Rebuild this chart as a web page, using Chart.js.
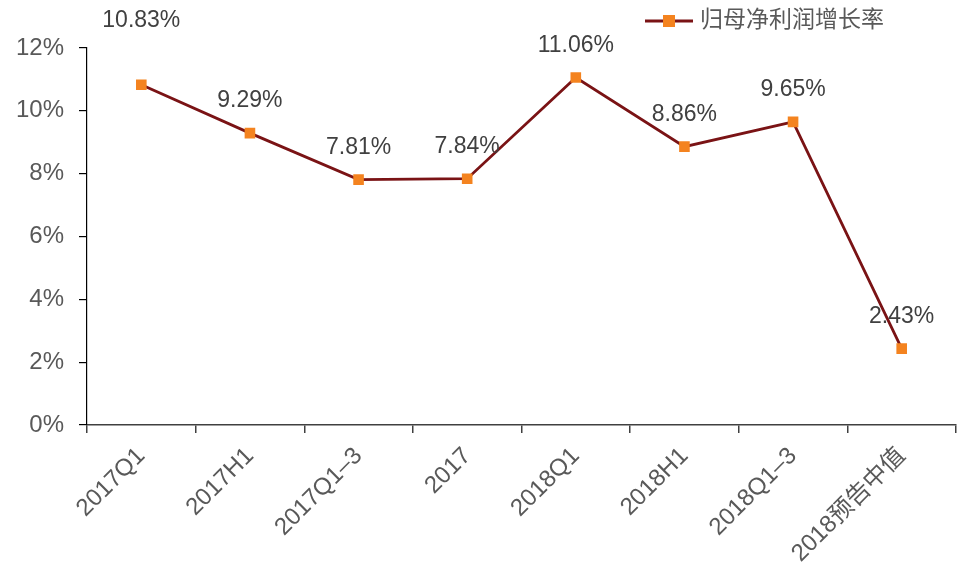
<!DOCTYPE html>
<html>
<head>
<meta charset="utf-8">
<script src="https://cdn.jsdelivr.net/npm/chart.js@4"></script>
<style>
html,body{margin:0;padding:0;background:#fff;}
#wrap{width:958px;height:569px;position:relative;}
</style>
</head>
<body>
<div id="wrap"><canvas id="c"></canvas></div>
<script>
const categories = ['2017Q1','2017H1','2017Q1–3','2017','2018Q1','2018H1','2018Q1–3','2018预告中值'];
const growthRate = [10.83, 9.29, 7.81, 7.84, 11.06, 8.86, 9.65, 2.43];
const yTicks = [0, 2, 4, 6, 8, 10, 12];
const seriesName = '归母净利润增长率';

const FONT = '"Liberation Sans", Arial, "Noto Sans CJK SC", sans-serif';
const LINE = '#7A1315';
const MARK = '#F4831F';

const dataLabels = {
  id: 'dataLabels',
  afterDatasetsDraw(chart, args, opts) {
    const ctx = chart.ctx;
    const meta = chart.getDatasetMeta(0);
    const ds = chart.data.datasets[0];
    ctx.save();
    ctx.font = '23px ' + FONT;
    ctx.fillStyle = '#404040';
    ctx.textAlign = 'center';
    ctx.textBaseline = 'middle';
    meta.data.forEach((el, i) => {
      const off = (opts.offsets && opts.offsets[i] != null) ? opts.offsets[i] : 32;
      ctx.fillText(ds.data[i].toFixed(2) + '%', el.x, el.y - off);
    });
    ctx.restore();
  }
};

const customLegend = {
  id: 'customLegend',
  afterDraw(chart) {
    const ctx = chart.ctx;
    const x0 = 645, y0 = 21;
    ctx.save();
    ctx.strokeStyle = LINE;
    ctx.lineWidth = 3;
    ctx.beginPath();
    ctx.moveTo(x0, y0);
    ctx.lineTo(x0 + 48, y0);
    ctx.stroke();
    ctx.fillStyle = MARK;
    ctx.fillRect(x0 + 24 - 6, y0 - 6, 12, 12);
    ctx.font = '23px ' + FONT;
    ctx.fillStyle = '#595959';
    ctx.textAlign = 'left';
    ctx.textBaseline = 'middle';
    ctx.fillText(seriesName, x0 + 55, y0);
    ctx.restore();
  }
};

new Chart(document.getElementById('c'), {
  type: 'line',
  data: {
    labels: categories,
    datasets: [{
      label: seriesName,
      data: growthRate,
      borderColor: LINE,
      borderWidth: 2.8,
      backgroundColor: MARK,
      pointStyle: 'rect',
      pointRadius: 7.5,
      pointHoverRadius: 7.5,
      pointBackgroundColor: MARK,
      pointBorderColor: MARK,
      pointBorderWidth: 0,
      tension: 0,
      fill: false
    }]
  },
  options: {
    responsive: true,
    maintainAspectRatio: false,
    animation: false,
    layout: { autoPadding: false, padding: { top: 48, right: 2, left: 0, bottom: 0 } },
    plugins: {
      legend: { display: false },
      tooltip: { enabled: false },
      dataLabels: { offsets: [64] }
    },
    scales: {
      x: {
        type: 'category',
        offset: true,
        grid: { display: true, drawOnChartArea: false, drawTicks: true, tickLength: 8, color: '#404040', lineWidth: 1.5, offset: true },
        border: { display: true, color: '#404040', width: 1.5 },
        ticks: {
          color: '#595959',
          font: { family: FONT, size: 24 },
          minRotation: 45, maxRotation: 45,
          padding: 9,
          autoSkip: false
        },
        afterFit(scale) { scale.height = 144; scale.paddingRight = 0; scale.paddingLeft = 0; }
      },
      y: {
        min: 0, max: 12,
        afterBuildTicks(scale) { scale.ticks = yTicks.map(v => ({ value: v })); },
        grid: { display: true, drawOnChartArea: false, drawTicks: true, tickLength: 8, color: '#000', lineWidth: 1.2 },
        border: { display: true, color: '#000', width: 1.2 },
        ticks: {
          color: '#595959',
          font: { family: FONT, size: 24 },
          padding: 15,
          callback: v => v + '%'
        },
        afterFit(scale) { scale.width = 87; scale.paddingTop = 0; scale.paddingBottom = 0; }
      }
    }
  },
  plugins: [dataLabels, customLegend]
});
</script>
</body>
</html>
